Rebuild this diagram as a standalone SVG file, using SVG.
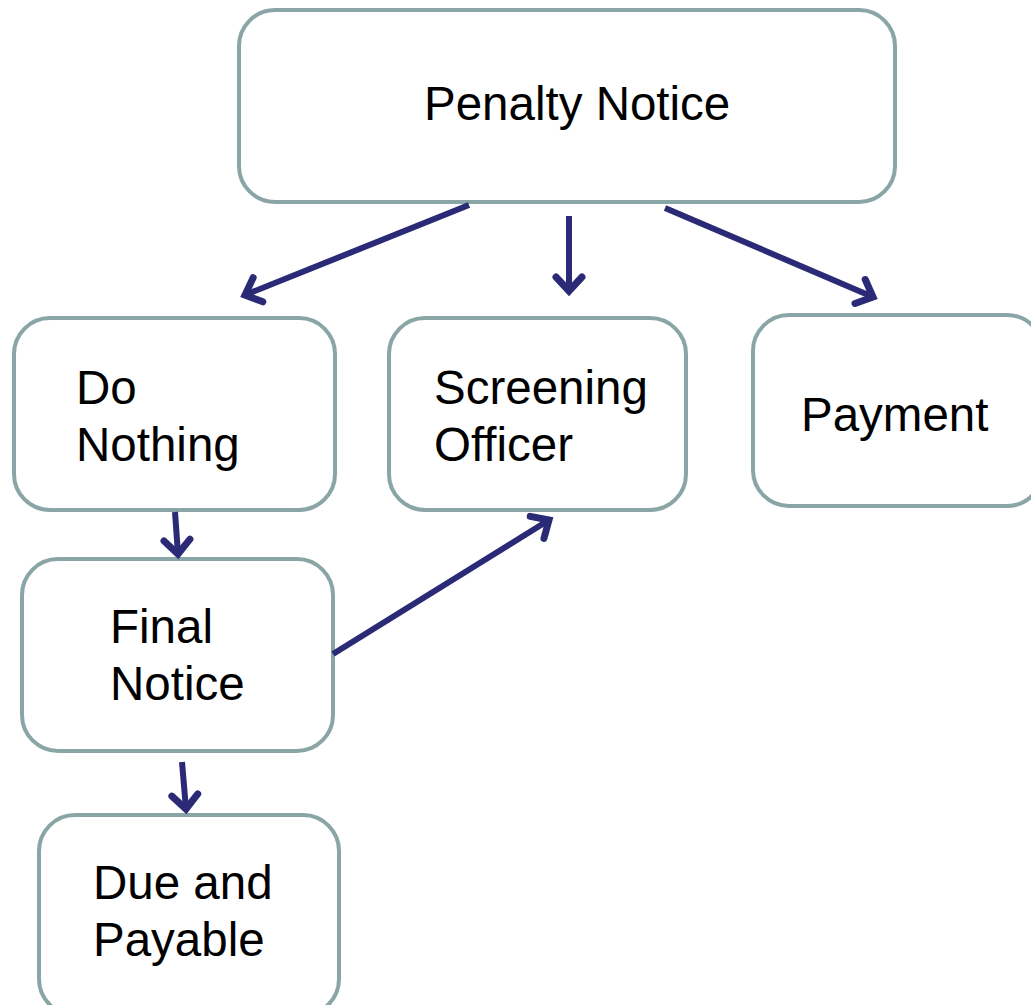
<svg xmlns="http://www.w3.org/2000/svg" width="1031" height="1005" viewBox="0 0 1031 1005">
<style>
.box{fill:#fff;stroke:#8aa5a6;stroke-width:4}
.lbl{font-family:"Liberation Sans",Arial,sans-serif;font-size:47.5px;fill:#000}
.conn{stroke:#2b2a76;stroke-width:6;fill:none;stroke-linecap:butt}
</style>
<defs>
<marker id="ah" markerUnits="userSpaceOnUse" viewBox="-20 -20 30 40" markerWidth="30" markerHeight="40" refX="0" refY="0" orient="auto">
<path d="M-14,-13 L0,0 L-14,13" fill="none" stroke="#2b2a76" stroke-width="7" stroke-linecap="round" stroke-linejoin="miter"/>
</marker>
</defs>
<rect width="1031" height="1005" fill="#fff"/>
<g id="penalty-notice"><rect class="box" x="239" y="10" width="656" height="192" rx="36"/><text class="lbl" x="424" y="120">Penalty Notice</text></g>
<g id="do-nothing"><rect class="box" x="14" y="318" width="321" height="192" rx="36"/><text class="lbl" x="76" y="404">Do</text><text class="lbl" x="76" y="461">Nothing</text></g>
<g id="screening-officer"><rect class="box" x="389" y="318" width="297" height="192" rx="36"/><text class="lbl" x="434" y="404">Screening</text><text class="lbl" x="434" y="461">Officer</text></g>
<g id="payment"><rect class="box" x="753" y="315" width="290" height="191" rx="36"/><text class="lbl" x="801" y="431">Payment</text></g>
<g id="final-notice"><rect class="box" x="22" y="559" width="311" height="192" rx="36"/><text class="lbl" x="110" y="643">Final</text><text class="lbl" x="110" y="700">Notice</text></g>
<g id="due-and-payable"><rect class="box" x="39" y="815" width="300" height="200" rx="36"/><text class="lbl" x="93" y="899">Due and</text><text class="lbl" x="93" y="956">Payable</text></g>
<g id="connectors">
<line class="conn" x1="469" y1="205" x2="245" y2="295" marker-end="url(#ah)"/>
<line class="conn" x1="569" y1="216" x2="569" y2="291" marker-end="url(#ah)"/>
<line class="conn" x1="665" y1="208" x2="873" y2="297" marker-end="url(#ah)"/>
<line class="conn" x1="333" y1="654" x2="549" y2="520" marker-end="url(#ah)"/>
<line class="conn" x1="175" y1="512" x2="178" y2="554" marker-end="url(#ah)"/>
<line class="conn" x1="182" y1="762" x2="186" y2="809" marker-end="url(#ah)"/>
</g>
</svg>
